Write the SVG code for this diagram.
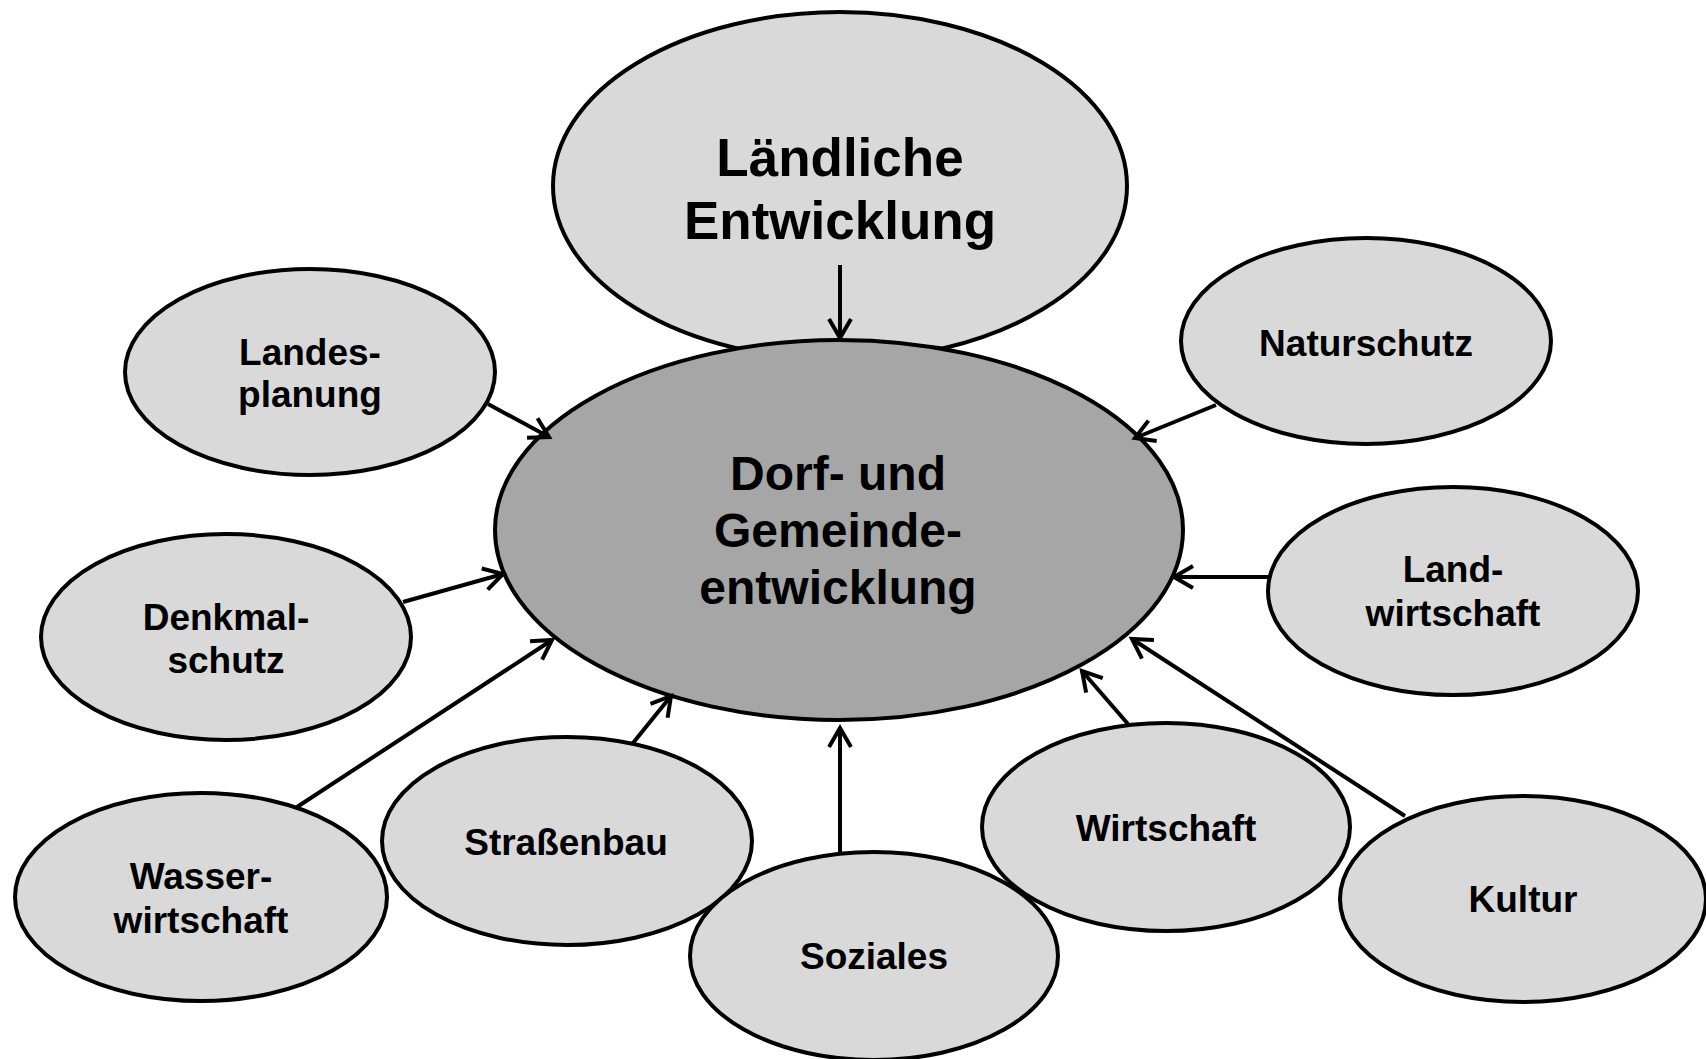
<svg xmlns="http://www.w3.org/2000/svg" width="1706" height="1059" viewBox="0 0 1706 1059">
<style>
.n ellipse{fill:#d9d9d9;stroke:#000;stroke-width:4}
#dorf ellipse{fill:#a6a6a6}
text{font-family:"Liberation Sans",Arial,sans-serif;font-weight:bold;text-anchor:middle;fill:#000}
.s{font-size:37px}
.c{font-size:48px}
.t{font-size:53px}
.e line{stroke:#000;stroke-width:4;marker-end:url(#ah)}
</style>
<defs>
<marker id="ah" markerUnits="userSpaceOnUse" markerWidth="30" markerHeight="30" refX="0" refY="0" viewBox="-24 -15 28 30" orient="auto" overflow="visible">
<path d="M-19,-11 L0,0 L-19,11" fill="none" stroke="#000" stroke-width="4" stroke-linejoin="miter"/>
</marker>
</defs>
<rect width="1706" height="1059" fill="#fff"/>
<g id="laendliche" class="n"><ellipse cx="840" cy="186" rx="287" ry="174"/><text class="t" x="840" y="176">Ländliche</text><text class="t" x="840" y="239">Entwicklung</text></g>
<g id="dorf" class="n"><ellipse cx="839" cy="530" rx="344" ry="190"/><text class="c" x="838" y="490">Dorf- und</text><text class="c" x="838" y="547">Gemeinde-</text><text class="c" x="838" y="604">entwicklung</text></g>
<g id="landesplanung" class="n"><ellipse cx="310" cy="372" rx="185" ry="103"/><text class="s" x="310" y="365">Landes-</text><text class="s" x="310" y="407">planung</text></g>
<g id="denkmalschutz" class="n"><ellipse cx="226" cy="637" rx="185" ry="103"/><text class="s" x="226" y="630">Denkmal-</text><text class="s" x="226" y="673">schutz</text></g>
<g id="naturschutz" class="n"><ellipse cx="1366" cy="341" rx="185" ry="103"/><text class="s" x="1366" y="356">Naturschutz</text></g>
<g id="landwirtschaft" class="n"><ellipse cx="1453" cy="591" rx="185" ry="104"/><text class="s" x="1453" y="582">Land-</text><text class="s" x="1453" y="626">wirtschaft</text></g>
<g id="wasserwirtschaft" class="n"><ellipse cx="201" cy="897" rx="186" ry="104"/><text class="s" x="201" y="889">Wasser-</text><text class="s" x="201" y="933">wirtschaft</text></g>
<g id="strassenbau" class="n"><ellipse cx="567" cy="841" rx="185" ry="104"/><text class="s" x="566" y="855">Straßenbau</text></g>
<g id="wirtschaft" class="n"><ellipse cx="1166" cy="827" rx="184" ry="104"/><text class="s" x="1166" y="841">Wirtschaft</text></g>
<g id="kultur" class="n"><ellipse cx="1523" cy="899" rx="183" ry="103"/><text class="s" x="1523" y="912">Kultur</text></g>
<g id="soziales" class="n"><ellipse cx="874" cy="956" rx="184" ry="104"/><text class="s" x="874" y="969">Soziales</text></g>
<g id="connectors" class="e">
<line x1="840" y1="265" x2="840" y2="338"/>
<line x1="488" y1="404" x2="549" y2="437"/>
<line x1="403" y1="602" x2="503" y2="574"/>
<line x1="297" y1="807" x2="552" y2="640"/>
<line x1="633" y1="743" x2="671" y2="696"/>
<line x1="840" y1="853" x2="840" y2="728"/>
<line x1="1128" y1="724" x2="1082" y2="671"/>
<line x1="1405" y1="816" x2="1132" y2="639"/>
<line x1="1268" y1="577" x2="1174" y2="577"/>
<line x1="1216" y1="405" x2="1135" y2="438"/>
</g>
</svg>
